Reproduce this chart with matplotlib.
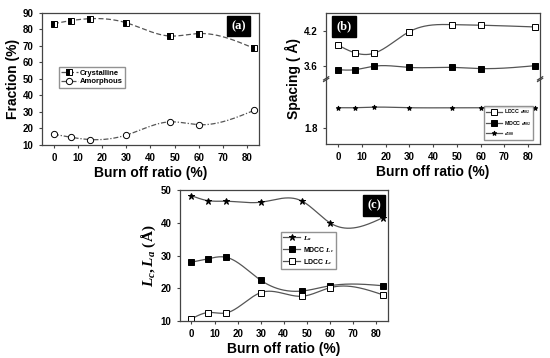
import numpy as np
import matplotlib.pyplot as plt
from matplotlib.lines import Line2D

burn_off = [0, 7, 15, 30, 48, 60, 83]

# (a) fractions
crystalline = [83.5, 85.3, 86.5, 84.0, 76.0, 77.5, 68.5]
amorphous = [16.5, 14.7, 13.3, 16.0, 24.0, 22.3, 31.0]

# (b) spacings
ldcc_d002 = [3.96, 3.83, 3.82, 4.19, 4.31, 4.30, 4.27]
mdcc_d002 = [3.54, 3.54, 3.60, 3.58, 3.58, 3.56, 3.61]
d100 = [2.15, 2.15, 2.16, 2.15, 2.15, 2.15, 2.15]

# (c) crystallite sizes
la = [48.3, 46.8, 46.6, 46.3, 46.6, 40.0, 41.6]
mdcc_lc = [28.0, 29.0, 29.5, 22.5, 19.2, 20.8, 20.8]
ldcc_lc = [10.7, 12.6, 12.5, 18.7, 17.6, 20.2, 18.0]

plt.rcParams["font.family"] = ["Liberation Sans", "DejaVu Sans"]
plt.rcParams["font.weight"] = "bold"
plt.rcParams["axes.labelweight"] = "bold"
plt.rcParams["mathtext.fontset"] = "custom"
plt.rcParams["mathtext.rm"] = "Liberation Serif:bold"
plt.rcParams["mathtext.it"] = "Liberation Serif:italic:bold"
plt.rcParams["mathtext.bf"] = "Liberation Serif:bold"

LINE = "#555555"
SPINE = "#444444"


def smooth(x, y, n=300):
    """Natural cubic spline through the points, for drawing the curve."""
    x = np.asarray(x, float)
    y = np.asarray(y, float)
    k = len(x)
    h = np.diff(x)
    A = np.zeros((k, k))
    b = np.zeros(k)
    A[0, 0] = A[-1, -1] = 1
    for i in range(1, k - 1):
        A[i, i - 1] = h[i - 1]
        A[i, i] = 2 * (h[i - 1] + h[i])
        A[i, i + 1] = h[i]
        b[i] = 3 * ((y[i + 1] - y[i]) / h[i] - (y[i] - y[i - 1]) / h[i - 1])
    c = np.linalg.solve(A, b)
    xs = np.linspace(x[0], x[-1], n)
    idx = np.clip(np.searchsorted(x, xs) - 1, 0, k - 2)
    dx = xs - x[idx]
    bc = (y[1:] - y[:-1]) / h - h * (2 * c[:-1] + c[1:]) / 3
    dc = (c[1:] - c[:-1]) / (3 * h)
    return xs, y[idx] + bc[idx] * dx + c[idx] * dx ** 2 + dc[idx] * dx ** 3


def style_axes(ax):
    for s in ax.spines.values():
        s.set_color(SPINE)
        s.set_linewidth(0.9)
    ax.tick_params(labelsize=7, width=0.8, length=2.5, color=SPINE, direction="out")
    ax.set_xlim(-5, 85)
    ax.set_xticks(range(0, 81, 10))


def bold_ticks(ax):
    for t in ax.get_xticklabels() + ax.get_yticklabels():
        t.set_fontweight("bold")


def panel_label(ax, text, x, y):
    ax.text(x, y, text, transform=ax.transAxes, ha="center", va="center",
            color="white", fontsize=9, fontweight="bold", family="Liberation Serif",
            bbox=dict(boxstyle="square,pad=0.35", fc="black", ec="black"))


def series(ax, y, ls, marker, mfc, ms, fs="full", lw=0.9):
    xs, ys = smooth(burn_off, y)
    ax.plot(xs, ys, color=LINE, ls=ls, lw=lw)
    ax.plot(burn_off, y, ls="none", marker=marker, ms=ms, mfc=mfc,
            mec="black", mew=0.7, fillstyle=fs, markerfacecoloralt="white")
    return Line2D([], [], color=LINE, ls=ls, lw=lw, marker=marker, ms=ms,
                  mfc=mfc, mec="black", mew=0.7, fillstyle=fs,
                  markerfacecoloralt="white")


fig = plt.figure(figsize=(5.5, 3.58), dpi=100)

# ---- (a)
ax_a = fig.add_axes([0.076, 0.595, 0.395, 0.369])
style_axes(ax_a)
h1 = series(ax_a, crystalline, (0, (4, 2)), "s", "black", 4, fs="left")
h2 = series(ax_a, amorphous, (0, (4, 1.5, 1, 1.5)), "o", "white", 4.5)
ax_a.set_ylim(10, 90)
ax_a.set_yticks(range(10, 91, 10))
ax_a.set_ylabel("Fraction (%)", fontsize=10, labelpad=2)
ax_a.set_xlabel("Burn off ratio (%)", fontsize=10, labelpad=2)
ax_a.legend([h1, h2], ["Crystalline", "Amorphous"], loc="upper left",
            bbox_to_anchor=(0.06, 0.62), fontsize=5.5, frameon=True, fancybox=False,
            edgecolor="#777777", handlelength=2.2, borderpad=0.3, labelspacing=0.2,
            handletextpad=0.3)
panel_label(ax_a, "(a)", 0.905, 0.9)

# ---- (b) broken axis
ax_bt = fig.add_axes([0.593, 0.779, 0.389, 0.185])
ax_bb = fig.add_axes([0.593, 0.598, 0.389, 0.181])
for ax in (ax_bt, ax_bb):
    style_axes(ax)
hb1 = series(ax_bt, ldcc_d002, "-", "s", "white", 4.5)
hb2 = series(ax_bt, mdcc_d002, "-", "s", "black", 4.5)
series(ax_bb, ldcc_d002, "-", "s", "white", 4.5)
series(ax_bb, mdcc_d002, "-", "s", "black", 4.5)
hb3 = series(ax_bb, d100, "-", "*", "black", 3.5)
series(ax_bt, d100, "-", "*", "black", 3.5)
ax_bt.set_ylim(3.38, 4.51)
ax_bt.set_yticks([3.6, 4.2])
ax_bb.set_ylim(1.53, 2.64)
ax_bb.set_yticks([1.8])
ax_bt.spines["bottom"].set_visible(False)
ax_bb.spines["top"].set_visible(False)
ax_bt.tick_params(axis="x", bottom=False, labelbottom=False)
ax_bt.yaxis.set_major_formatter(plt.FormatStrFormatter("%.1f"))
ax_bb.yaxis.set_major_formatter(plt.FormatStrFormatter("%.1f"))
ax_bb.set_xlabel("Burn off ratio (%)", fontsize=10, labelpad=2)
fig.text(0.532, 0.78, "Spacing ( Å)", rotation=90, ha="center", va="center",
         fontsize=10, fontweight="bold")
# break marks
for xb in (0, 1):
    for dy in (-0.012, 0.012):
        ax_bb.plot([xb - 0.012, xb + 0.012], [1 + dy - 0.025, 1 + dy + 0.025],
                   transform=ax_bb.transAxes, color=SPINE, lw=0.9, clip_on=False)
ax_bb.legend([hb1, hb2, hb3], ["LDCC $d_{002}$", "MDCC $d_{002}$", "$d_{100}$"],
             loc="lower right", bbox_to_anchor=(0.98, 0.02), fontsize=3.8,
             frameon=True, fancybox=False, edgecolor="#777777", handlelength=3,
             borderpad=0.4, labelspacing=0.5, handletextpad=0.3)
panel_label(ax_bt, "(b)", 0.085, 0.8)

# ---- (c)
ax_c = fig.add_axes([0.327, 0.103, 0.378, 0.366])
style_axes(ax_c)
hc1 = series(ax_c, la, "-", "*", "black", 5)
hc2 = series(ax_c, mdcc_lc, "-", "s", "black", 4.5)
hc3 = series(ax_c, ldcc_lc, "-", "s", "white", 4.5)
ax_c.set_ylim(10, 50)
ax_c.set_yticks(range(10, 51, 10))
ax_c.set_xlabel("Burn off ratio (%)", fontsize=10, labelpad=2)
ax_c.set_ylabel("$L_c, L_a$ $\\mathrm{(\\AA)}$", fontsize=11, labelpad=2)
ax_c.legend([hc1, hc2, hc3], ["$L_a$", "MDCC $L_c$", "LDCC $L_c$"],
            loc="upper left", bbox_to_anchor=(0.47, 0.71), fontsize=5,
            frameon=True, fancybox=False, edgecolor="#777777", handlelength=2.5,
            borderpad=0.3, labelspacing=0.3, handletextpad=0.3)
panel_label(ax_c, "(c)", 0.935, 0.885)

for ax in (ax_a, ax_bt, ax_bb, ax_c):
    bold_ticks(ax)

fig.savefig("out.png", dpi=100)
